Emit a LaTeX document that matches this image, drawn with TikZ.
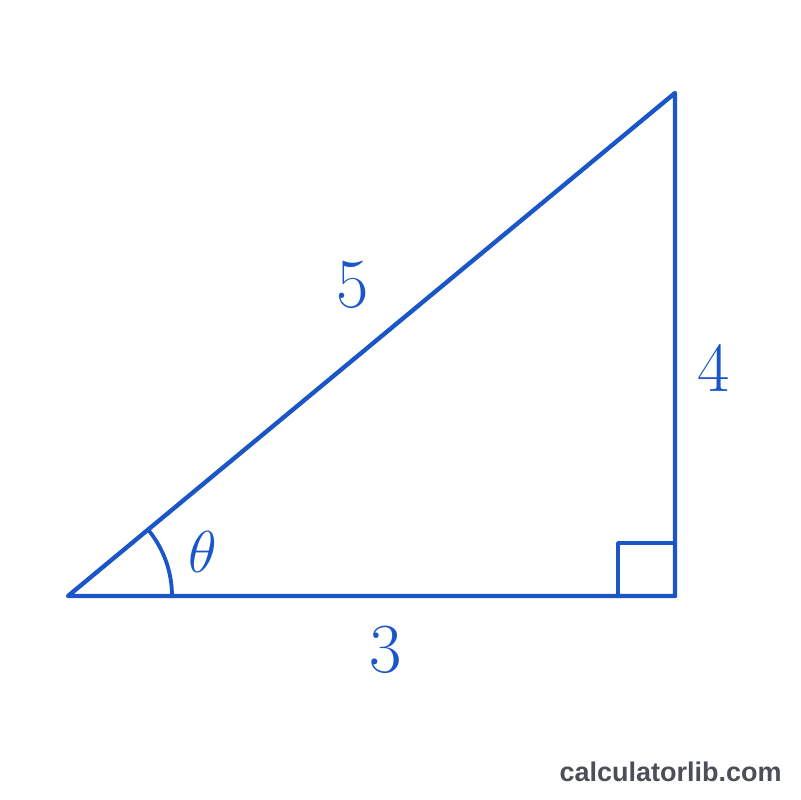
\RequirePackage{fix-cm}
\documentclass[tikz,border=0pt]{standalone}
\usepackage{fontspec}
\newfontfamily\markfont{Liberation Sans}
\usetikzlibrary{positioning}
\definecolor{sideblue}{HTML}{1A56C8}
\definecolor{markgray}{HTML}{4B4F58}
\begin{document}
\begin{tikzpicture}[
    x=0.025cm, y=0.025cm,
    side/.style={draw=sideblue, line width=3.1pt, line join=round, line cap=round},
    lengthlabel/.style={text=sideblue, inner sep=0pt, font=\fontsize{50}{60}\selectfont},
    anglelabel/.style={text=sideblue, inner sep=0pt, font=\fontsize{42}{50}\selectfont},
    watermark/.style={text=markgray, inner sep=0pt, font=\markfont\bfseries\fontsize{19.2}{23}\selectfont}
]
\useasboundingbox (0,0) rectangle (800,800);

% Vertices
\coordinate (A) at (68,204);
\coordinate (B) at (675,204);
\coordinate (C) at (675,707);
\coordinate (corner) at (618,257);

% Triangle
\draw[side] (A) -- (B) -- (C) -- cycle;

% Right angle mark
\draw[side, line width=2.7pt] (B) ++(-57,0) |- (corner) -| ++(57,-53);

% Angle arc at A
\draw[side, line width=2.7pt] (A) ++(104,0) arc[start angle=0, end angle=39.65, radius=104];

% Labels
\node[lengthlabel] (hyp) at (353,515) {5};
\node[lengthlabel] (opp) at (714,432) {4};
\node[lengthlabel] (adj) at (386,150) {3};
\node[anglelabel] (theta) at (203,248) {$\theta$};

% Site name
\node[watermark, anchor=base east] (site) at (782,18) {calculatorlib.com};

\end{tikzpicture}
\end{document}
